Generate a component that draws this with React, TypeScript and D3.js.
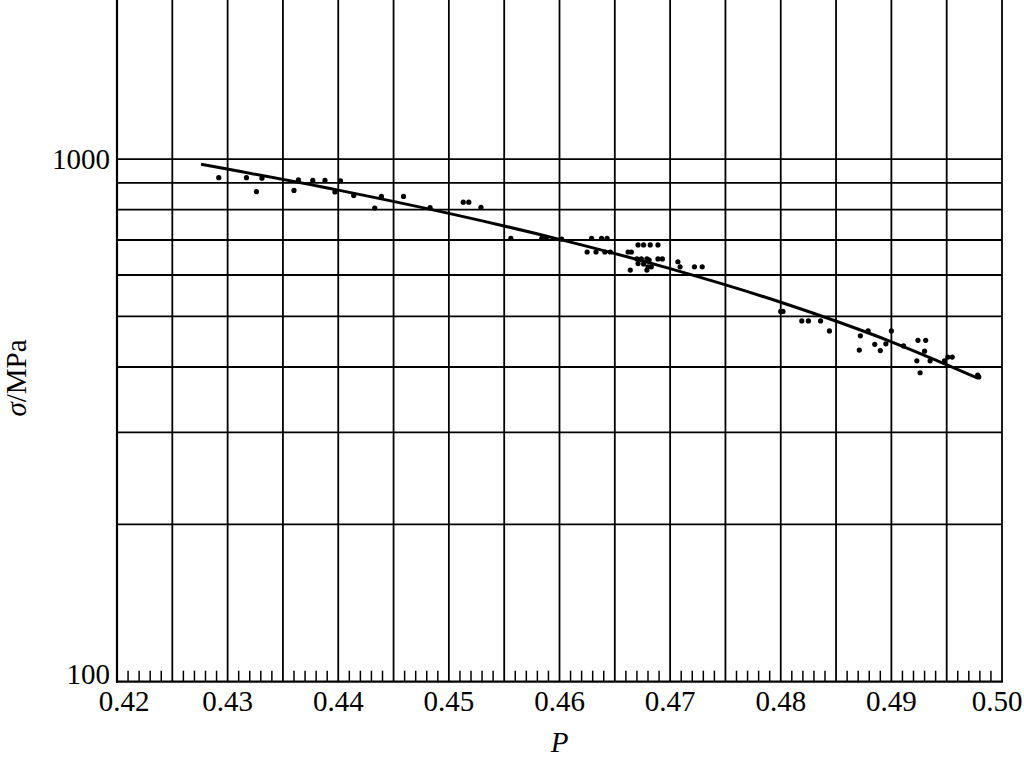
import React from "react";
import * as d3 from "d3";

// ---- data ----
const xTickValues = [0.42, 0.43, 0.44, 0.45, 0.46, 0.47, 0.48, 0.49, 0.5];
const xTickLabels = ["0.42", "0.43", "0.44", "0.45", "0.46", "0.47", "0.48", "0.49", "0.50"];
const yGridValues = [200, 300, 400, 500, 600, 700, 800, 900, 1000];
const yTickValues = [100, 1000];
const yTickLabels = ["100", "1000"];

const pointP = [
  0.4292, 0.4317, 0.4326, 0.4331, 0.436, 0.4364, 0.4377, 0.4388, 0.4402, 0.4397,
  0.4414, 0.4433, 0.4439, 0.4459, 0.4483, 0.4513, 0.4518, 0.4529,
  0.4556, 0.4584, 0.4588, 0.4602, 0.4625, 0.4629, 0.4633, 0.4638, 0.4643, 0.4641,
  0.4646, 0.4662, 0.4665, 0.4671, 0.4676, 0.4682, 0.4689, 0.467, 0.4674, 0.4679,
  0.4681, 0.4671, 0.4676, 0.4664, 0.4679, 0.468, 0.4683, 0.4689, 0.4693, 0.4707,
  0.4709, 0.4722, 0.4729,
  0.48, 0.4802, 0.4819, 0.4825, 0.4836, 0.4844, 0.4871, 0.4872, 0.4879, 0.4885,
  0.489, 0.4895, 0.49, 0.4911, 0.4924, 0.4931, 0.493, 0.4923, 0.4935, 0.4926,
  0.4948, 0.4951, 0.4955, 0.4978, 0.4979,
];
const pointSigma = [
  921, 921, 866, 919, 871, 912, 910, 910, 908, 865,
  852, 806, 848, 848, 807, 827, 827, 808,
  705, 705, 705, 703, 664, 705, 664, 705, 705, 664,
  664, 664, 664, 685, 685, 685, 685, 644, 644, 644,
  641, 631, 630, 613, 613, 622, 622, 644, 644, 636,
  622, 622, 622,
  511, 511, 490, 490, 490, 469, 431, 459, 469, 442,
  430, 443, 469, 439, 450, 450, 429, 411, 411, 390,
  411, 418, 418, 386, 383,
];

// fitted curve, read at several P positions
const fitP = [0.4276, 0.44, 0.45, 0.46, 0.47, 0.48, 0.49, 0.4978];
const fitSigma = [977, 872, 787, 702, 617, 532, 447, 381];

// ---- layout ----
const W = 1024;
const H = 759;
const left = 117;
const right = 1002;
const bottom = 681.7;
const top = 0;
const serif = "'Liberation Serif', 'DejaVu Serif', 'Times New Roman', serif";

export default function App() {
  const x = d3.scaleLinear().domain([0.42, 0.5]).range([left, right]);
  const y = d3.scaleLog().domain([100, 2015]).range([bottom, top]);

  const vGrid = d3.range(1, 17).map((i) => 0.42 + i * 0.005);
  const minor = d3
    .range(1, 80)
    .filter((i) => i % 5 !== 0)
    .map((i) => 0.42 + i * 0.001);

  const line = d3
    .line<number>()
    .x((_, i) => x(fitP[i]))
    .y((_, i) => y(fitSigma[i]))
    .curve(d3.curveMonotoneX);

  const labelShift = (i: number) =>
    i === 0 ? 7 : i === xTickValues.length - 1 ? -5 : 0;

  return (
    <svg
      width={W}
      height={H}
      style={{ position: "absolute", left: 0, top: 0, background: "#fff" }}
    >
      <rect x={0} y={0} width={W} height={H} fill="#fff" />
      {/* horizontal grid */}
      {yGridValues.map((v) => (
        <line
          key={"h" + v}
          x1={left}
          x2={right}
          y1={y(v)}
          y2={y(v)}
          stroke="#000"
          strokeWidth={1.8}
        />
      ))}
      {/* vertical grid */}
      {vGrid.map((v) => (
        <line
          key={"v" + v}
          x1={x(v)}
          x2={x(v)}
          y1={top}
          y2={bottom}
          stroke="#000"
          strokeWidth={1.8}
        />
      ))}
      {/* minor ticks */}
      {minor.map((v) => (
        <line
          key={"m" + v}
          x1={x(v)}
          x2={x(v)}
          y1={bottom - 11}
          y2={bottom}
          stroke="#000"
          strokeWidth={1.5}
        />
      ))}
      {/* axes */}
      <line x1={left} x2={left} y1={top} y2={bottom + 1} stroke="#000" strokeWidth={2.2} />
      <line x1={left - 1} x2={right + 1} y1={bottom} y2={bottom} stroke="#000" strokeWidth={2.2} />

      {/* fitted curve */}
      <path d={line(fitP) || ""} fill="none" stroke="#000" strokeWidth={3} />

      {/* points */}
      {pointP.map((p, i) => (
        <circle key={"p" + i} cx={x(p)} cy={y(pointSigma[i])} r={2.6} fill="#000" />
      ))}

      {/* x tick labels */}
      {xTickValues.map((v, i) => (
        <text
          key={"xt" + v}
          x={x(v) + labelShift(i)}
          y={711}
          textAnchor="middle"
          fontFamily={serif}
          fontSize={29}
          fill="#000"
        >
          {xTickLabels[i]}
        </text>
      ))}
      {/* y tick labels */}
      {yTickValues.map((v, i) => (
        <text
          key={"yt" + v}
          x={110}
          y={y(v) + (v === 100 ? 2 : 10)}
          textAnchor="end"
          fontFamily={serif}
          fontSize={29}
          fill="#000"
        >
          {yTickLabels[i]}
        </text>
      ))}

      {/* axis titles */}
      <text
        x={x(0.46)}
        y={752}
        textAnchor="middle"
        fontFamily={serif}
        fontStyle="italic"
        fontSize={29}
        fill="#000"
      >
        P
      </text>
      <text
        transform={`translate(26, 378) rotate(-90)`}
        textAnchor="middle"
        fontFamily={serif}
        fontSize={29}
        fill="#000"
      >
        <tspan fontStyle="italic">σ</tspan>/MPa
      </text>
    </svg>
  );
}
